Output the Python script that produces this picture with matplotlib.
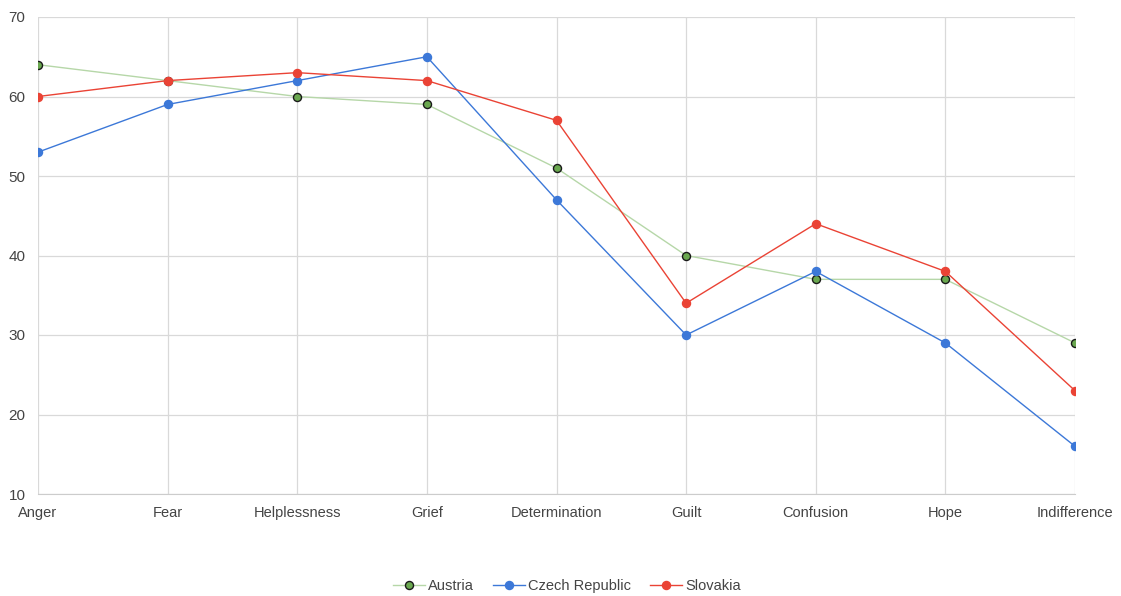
import matplotlib.pyplot as plt

emotions = ["Anger", "Fear", "Helplessness", "Grief", "Determination",
            "Guilt", "Confusion", "Hope", "Indifference"]
austria = [64, 62, 60, 59, 51, 40, 37, 37, 29]
czech = [53, 59, 62, 65, 47, 30, 38, 29, 16]
slovakia = [60, 62, 63, 62, 57, 34, 44, 38, 23]

plt.rcParams['font.family'] = ['Liberation Sans', 'DejaVu Sans']

fig = plt.figure(figsize=(11.21, 5.96), dpi=100)
ax = fig.add_axes([38/1121, 1-494/596, (1075-38)/1121, (494-17)/596])

x = list(range(len(emotions)))
ax.plot(x, austria, color="#b6d7a8", lw=1.0, marker="o", ms=5.8,
        mfc="#6aa84f", mec="#1a1a1a", mew=1.0, label="Austria", zorder=3)
ax.plot(x, czech, color="#3c78d8", lw=1.0, marker="o", ms=5.8,
        mfc="#3c78d8", mec="#3c78d8", label="Czech Republic", zorder=4)
ax.plot(x, slovakia, color="#ea4335", lw=1.0, marker="o", ms=5.8,
        mfc="#ea4335", mec="#ea4335", label="Slovakia", zorder=5)

ax.set_xlim(0, len(emotions) - 1)
ax.set_ylim(10, 70)
ax.set_yticks(range(10, 71, 10))
ax.set_xticks(x)
ax.set_xticklabels(emotions, va="baseline")
ax.grid(True, color="#d9d9d9", lw=0.9)
ax.set_axisbelow(True)
for s in ["top", "right", "left"]:
    ax.spines[s].set_visible(False)
ax.spines["bottom"].set_color("#cccccc")
ax.tick_params(length=0, labelsize=10.5, colors="#444444")
ax.tick_params(axis="y", labelsize=11, pad=9)
ax.tick_params(axis="x", pad=16.5)

fig.legend(loc="center", bbox_to_anchor=(567/1121, 1-586/596), ncol=3,
           frameon=False, fontsize=10.5, handlelength=2.2, columnspacing=1.3,
           handletextpad=0.2, labelcolor="#444444")

fig.savefig("out.png", dpi=100)
